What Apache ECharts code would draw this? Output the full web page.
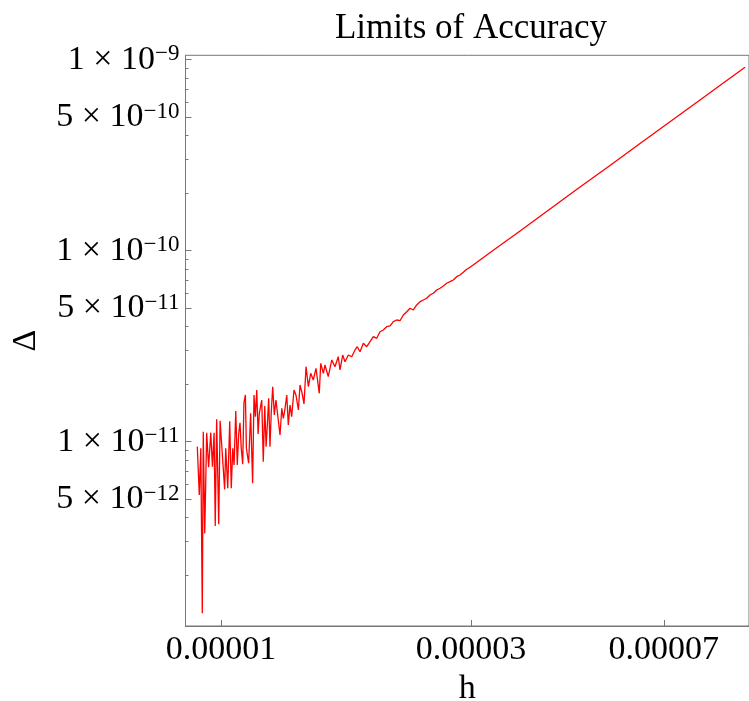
<!DOCTYPE html>
<html>
<head>
<meta charset="utf-8">
<script src="https://cdn.jsdelivr.net/npm/echarts@6/dist/echarts.min.js"></script>
<style>
html,body{margin:0;padding:0;background:#fff;}
#chart{width:749px;height:701px;}
</style>
</head>
<body>
<div id="chart"></div>
<script>
// ---- data ----
const hVals = [
9.01e-6,9.09e-6,9.15e-6,9.19e-6,9.21e-6,9.25e-6,9.31e-6,9.39e-6,9.47e-6,9.56e-6,
9.63e-6,9.70e-6,9.75e-6,9.81e-6,9.90e-6,9.96e-6,1.004e-5,1.010e-5,1.016e-5,1.021e-5,
1.030e-5,1.039e-5,1.046e-5,1.053e-5,1.059e-5,1.067e-5,1.074e-5,1.081e-5,1.087e-5,1.093e-5,
1.100e-5,1.106e-5,1.113e-5,1.118e-5,1.129e-5,1.139e-5,1.149e-5,1.156e-5,1.163e-5,1.170e-5,
1.177e-5,1.183e-5,1.191e-5,1.196e-5,1.204e-5,1.212e-5,1.219e-5,1.226e-5,1.233e-5,1.240e-5,
1.247e-5,1.255e-5,1.264e-5,1.273e-5,1.283e-5,1.296e-5,1.306e-5,1.315e-5,1.325e-5,1.335e-5,
1.344e-5,1.354e-5,1.364e-5,1.378e-5,1.390e-5,1.405e-5,1.415e-5,1.428e-5,1.440e-5,1.453e-5,
1.468e-5,1.483e-5,1.500e-5,1.518e-5,1.540e-5,1.550e-5,1.568e-5,1.579e-5,1.602e-5,1.627e-5,
1.650e-5,1.674e-5,1.687e-5,1.707e-5,1.724e-5,1.750e-5,1.776e-5,1.802e-5,1.820e-5,1.842e-5,
1.869e-5,1.897e-5,1.925e-5,1.953e-5,1.982e-5,2.011e-5,2.040e-5,2.071e-5,2.102e-5,2.132e-5,
2.164e-5,2.196e-5,2.228e-5,2.262e-5,2.295e-5,2.328e-5,2.363e-5,2.398e-5,2.433e-5,2.469e-5,
2.505e-5,2.542e-5,2.580e-5,2.618e-5,2.656e-5,2.696e-5,2.735e-5,2.775e-5,2.817e-5,2.858e-5,
2.900e-5,2.944e-5,2.987e-5,3.334e-5,3.721e-5,4.245e-5,4.843e-5,5.526e-5,6.304e-5,7.192e-5,
8.206e-5,9.159e-5,1.000e-4
];
const deltaVals = [
9.42e-12,5.26e-12,9.24e-12,9.24e-12,1.264e-12,1.128e-11,3.31e-12,1.115e-11,7.35e-12,1.115e-11,
7.40e-12,1.115e-11,3.62e-12,1.310e-11,3.70e-12,1.288e-11,9.24e-12,9.24e-12,5.63e-12,9.24e-12,
5.70e-12,1.279e-11,5.70e-12,9.24e-12,7.55e-12,1.448e-11,7.55e-12,1.107e-11,1.257e-11,9.24e-12,
7.62e-12,1.600e-11,1.756e-11,9.24e-12,7.71e-12,1.408e-11,6.06e-12,1.756e-11,1.352e-11,1.865e-11,
1.097e-11,1.397e-11,1.397e-11,1.653e-11,7.86e-12,1.538e-11,9.42e-12,1.233e-11,1.688e-11,9.42e-12,
1.418e-11,1.941e-11,1.380e-11,1.653e-11,1.620e-11,1.084e-11,1.496e-11,1.326e-11,1.496e-11,1.756e-11,
1.223e-11,1.557e-11,1.352e-11,1.865e-11,1.756e-11,1.465e-11,1.981e-11,1.792e-11,1.576e-11,2.470e-11,
1.941e-11,2.281e-11,2.104e-11,2.423e-11,1.792e-11,2.573e-11,2.281e-11,2.521e-11,2.190e-11,2.678e-11,
2.470e-11,2.786e-11,2.374e-11,2.844e-11,2.623e-11,2.844e-11,2.786e-11,3.021e-11,3.143e-11,2.959e-11,
3.275e-11,3.143e-11,3.339e-11,3.546e-11,3.478e-11,3.766e-11,3.844e-11,4.000e-11,4.035e-11,4.249e-11,
4.337e-11,4.300e-11,4.607e-11,4.793e-11,4.994e-11,4.893e-11,5.197e-11,5.408e-11,5.520e-11,5.634e-11,
5.863e-11,5.984e-11,6.227e-11,6.356e-11,6.535e-11,6.751e-11,6.882e-11,7.025e-11,7.310e-11,7.461e-11,
7.708e-11,7.992e-11,8.186e-11,1.021e-10,1.268e-10,1.653e-10,2.155e-10,2.793e-10,3.637e-10,4.730e-10,
6.152e-10,7.661e-10,9.124e-10
];
// tick labels
const xTickValues = [1e-5, 3e-5, 7e-5];
const xTickLabels = ['0.00001', '0.00003', '0.00007'];
const yTickValues = [1e-9, 5e-10, 1e-10, 5e-11, 1e-11, 5e-12];
const yTickMantissa = ['1', '5', '1', '5', '1', '5'];
const yTickExponent = ['\u22129', '\u221210', '\u221210', '\u221211', '\u221211', '\u221212'];
const yMinorTicks = [
2e-12,3e-12,4e-12,6e-12,7e-12,8e-12,9e-12,
2e-11,3e-11,4e-11,6e-11,7e-11,8e-11,9e-11,
2e-10,3e-10,4e-10,6e-10,7e-10,8e-10,9e-10
];
const titleText = 'Limits of Accuracy';
const xName = 'h';
const yName = '\u0394';

// axis extents
const xMin = 8.555e-6, xMax = 1.0177e-4;
const yMin = 1.084e-12, yMax = 1.0545e-9;

const FONT = "'Liberation Serif','DejaVu Serif','Times New Roman',serif";
const AX = '#777';

function findIdx(arr, v) {
  for (let i = 0; i < arr.length; i++) {
    if (Math.abs(Math.log10(arr[i]) - Math.log10(v)) < 1e-6) return i;
  }
  return -1;
}

const chart = echarts.init(document.getElementById('chart'), null, {renderer: 'canvas'});
chart.setOption({
  animation: false,
  backgroundColor: '#fff',
  title: {
    text: titleText,
    left: 466,
    top: 6,
    textAlign: 'center',
    textStyle: {fontFamily: FONT, fontSize: 35, fontWeight: 'normal', color: '#000'}
  },
  grid: {
    left: 185.5, right: 0, top: 55.3, bottom: 75,
    outerBoundsMode: 'none',
    containLabel: false,
    show: true, borderColor: AX, borderWidth: 1, backgroundColor: 'transparent'
  },
  xAxis: [{
    type: 'log', logBase: 10, min: xMin, max: xMax,
    name: xName, nameLocation: 'middle', nameGap: 42,
    nameTextStyle: {fontFamily: FONT, fontSize: 34, color: '#000'},
    axisLine: {show: true, lineStyle: {color: AX, width: 1}},
    axisTick: {show: true, inside: true, length: 6, customValues: xTickValues, lineStyle: {color: AX}},
    axisLabel: {
      show: true, margin: 7, customValues: xTickValues,
      fontFamily: FONT, fontSize: 34, color: '#000',
      formatter: function (v) { const i = findIdx(xTickValues, v); return i >= 0 ? xTickLabels[i] : ''; }
    },
    splitLine: {show: false}, minorTick: {show: false}
  }],
  yAxis: [{
    type: 'log', logBase: 10, min: yMin, max: yMax, position: 'left',
    name: yName, nameLocation: 'middle', nameGap: 142,
    nameTextStyle: {fontFamily: FONT, fontSize: 34, color: '#000'},
    axisLine: {show: true, lineStyle: {color: AX, width: 1}},
    axisTick: {show: true, inside: true, length: 6, customValues: yTickValues, lineStyle: {color: AX}},
    axisLabel: {
      show: true, margin: 6, customValues: yTickValues,
      formatter: function (v) {
        const i = findIdx(yTickValues, v);
        if (i < 0) return '';
        return '{b|' + yTickMantissa[i] + ' \u00d7 10}{s|' + yTickExponent[i] + '}';
      },
      rich: {
        b: {fontFamily: FONT, fontSize: 34, color: '#000', lineHeight: 34, verticalAlign: 'bottom'},
        s: {fontFamily: FONT, fontSize: 23, color: '#000', lineHeight: 34, verticalAlign: 'top', padding: [0,0,12,0]}
      }
    },
    splitLine: {show: false}, minorTick: {show: false}
  }, {
    type: 'log', logBase: 10, min: yMin, max: yMax, position: 'left',
    axisLine: {show: false},
    axisTick: {show: true, inside: true, length: 3, customValues: yMinorTicks, lineStyle: {color: AX}},
    axisLabel: {show: false},
    splitLine: {show: false}, minorTick: {show: false}
  }],
  series: [{
    type: 'line',
    xAxisIndex: 0, yAxisIndex: 0,
    data: hVals.map((h, i) => [h, deltaVals[i]]),
    showSymbol: false, symbol: 'none',
    lineStyle: {color: '#ff0000', width: 1.3},
    clip: true
  }]
});
</script>
</body>
</html>
